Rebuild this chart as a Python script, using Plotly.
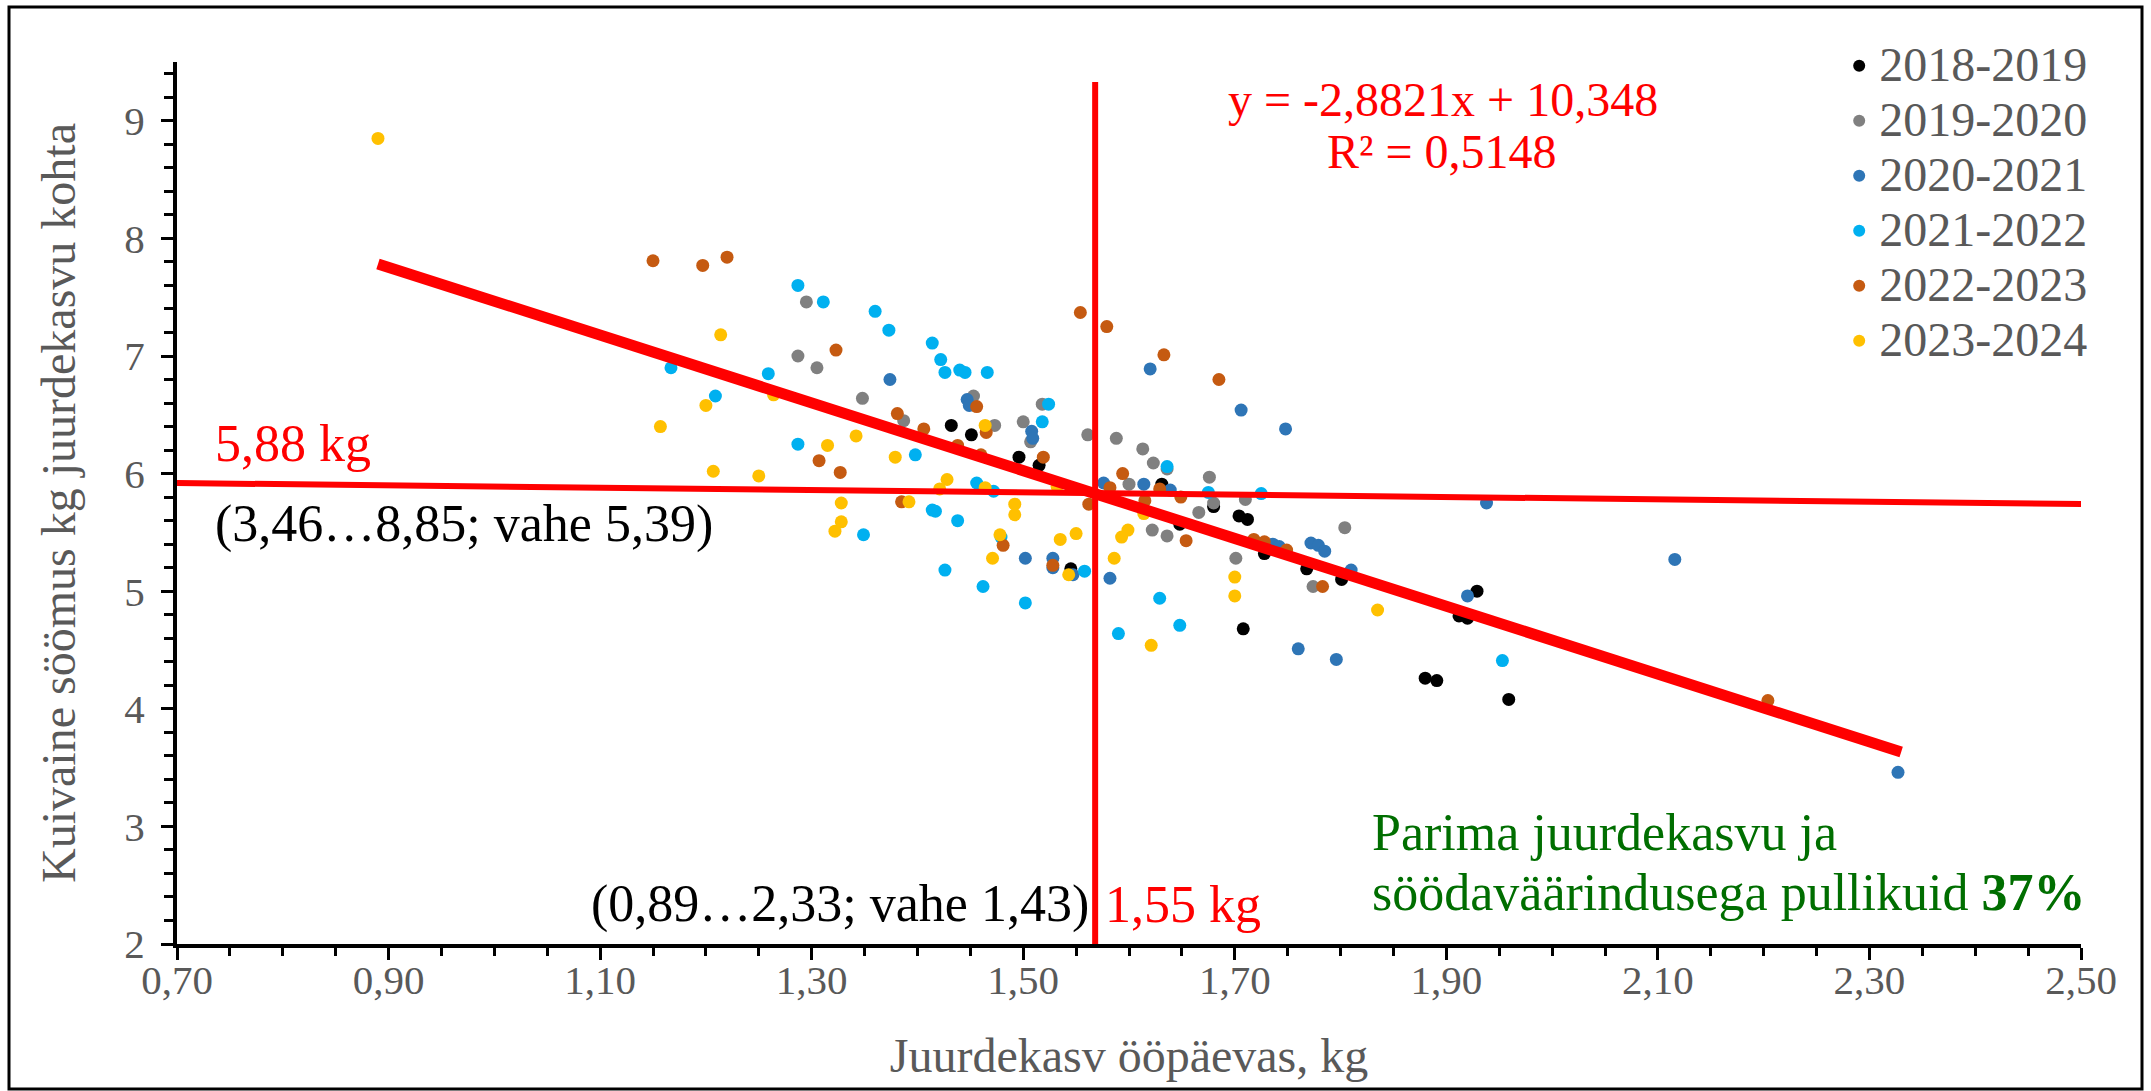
import plotly.graph_objects as go

# ---------------- data ----------------
series_names = ["2018-2019", "2019-2020", "2020-2021", "2021-2022", "2022-2023", "2023-2024"]
series_colors = ["#000000", "#808080", "#2E75B6", "#00B0F0", "#C55A11", "#FFC000"]

x_2018 = [1.432, 1.451, 1.496, 1.515, 1.631, 1.680, 1.704, 1.712, 1.648, 1.728, 1.768, 1.801,
          1.708, 1.929, 1.912, 1.920, 1.880, 1.891, 1.959, 1.545]
y_2018 = [6.41, 6.33, 6.14, 6.07, 5.91, 5.72, 5.64, 5.61, 5.57, 5.32, 5.19, 5.10,
          4.68, 5.00, 4.79, 4.77, 4.26, 4.24, 4.08, 5.19]

x_2019 = [1.295, 1.287, 1.305, 1.348, 1.387, 1.453, 1.518, 1.473, 1.500, 1.507, 1.561, 1.588,
          1.613, 1.623, 1.636, 1.676, 1.600, 1.710, 1.680, 1.666, 1.622, 1.636, 1.804, 1.701, 1.774]
y_2019 = [7.46, 7.00, 6.90, 6.64, 6.45, 6.66, 6.59, 6.41, 6.44, 6.27, 6.33, 6.30,
          6.21, 6.09, 6.04, 5.97, 5.91, 5.78, 5.75, 5.67, 5.52, 5.47, 5.54, 5.28, 5.04]

x_2020 = [1.374, 1.447, 1.449, 1.508, 1.509, 1.620, 1.706, 1.748, 1.576, 1.614, 1.639, 1.736,
          1.742, 1.772, 1.779, 1.785, 1.810, 1.502, 1.528, 1.528, 1.547, 1.582, 1.760, 1.796,
          1.920, 1.938, 2.116, 2.327]
y_2020 = [6.80, 6.63, 6.58, 6.36, 6.30, 6.89, 6.54, 6.38, 5.92, 5.91, 5.86, 5.40,
          5.38, 5.41, 5.39, 5.34, 5.18, 5.28, 5.28, 5.20, 5.14, 5.11, 4.51, 4.42,
          4.96, 5.75, 5.27, 3.46]

x_2021 = [1.287, 1.311, 1.360, 1.373, 1.414, 1.422, 1.426, 1.440, 1.445, 1.466, 1.524, 1.518,
          1.167, 1.259, 1.209, 1.287, 1.349, 1.398, 1.636, 1.675, 1.725, 1.456, 1.472, 1.414,
          1.417, 1.438, 1.558, 1.426, 1.462, 1.502, 1.590, 1.629, 1.648, 1.953, 1.479]
y_2021 = [7.60, 7.46, 7.38, 7.22, 7.11, 6.97, 6.86, 6.88, 6.86, 6.86, 6.59, 6.44,
          6.90, 6.85, 6.66, 6.25, 5.48, 6.16, 6.06, 5.84, 5.83, 5.92, 5.85, 5.69,
          5.68, 5.60, 5.17, 5.18, 5.04, 4.90, 4.64, 4.94, 4.71, 4.41, 5.46]

x_2022 = [1.150, 1.197, 1.220, 1.323, 1.307, 1.327, 1.381, 1.406, 1.456, 1.465, 1.438, 1.460,
          1.519, 1.554, 1.579, 1.633, 1.685, 1.594, 1.582, 1.629, 1.649, 1.615, 1.654, 1.718,
          1.728, 1.749, 1.783, 1.385, 1.562, 1.481, 1.528, 2.204]
y_2022 = [7.81, 7.77, 7.84, 7.05, 6.11, 6.01, 6.51, 6.38, 6.57, 6.35, 6.24, 6.16,
          6.14, 7.37, 7.25, 7.01, 6.80, 6.00, 5.88, 5.87, 5.80, 5.77, 5.43, 5.44,
          5.42, 5.35, 5.04, 5.76, 5.74, 5.39, 5.22, 4.07]

x_2023 = [0.890, 1.214, 1.264, 1.200, 1.157, 1.342, 1.315, 1.207, 1.250, 1.328, 1.328, 1.322,
          1.379, 1.464, 1.421, 1.428, 1.464, 1.532, 1.392, 1.492, 1.492, 1.478, 1.535, 1.550,
          1.471, 1.543, 1.614, 1.593, 1.599, 1.586, 1.700, 1.700, 1.621, 1.835]
y_2023 = [8.85, 7.18, 6.67, 6.58, 6.40, 6.32, 6.24, 6.02, 5.98, 5.75, 5.59, 5.51,
          6.14, 6.41, 5.87, 5.95, 5.88, 5.89, 5.76, 5.74, 5.65, 5.48, 5.44, 5.49,
          5.28, 5.14, 5.66, 5.46, 5.52, 5.28, 5.12, 4.96, 4.54, 4.84]

series_x = [x_2018, x_2019, x_2020, x_2021, x_2022, x_2023]
series_y = [y_2018, y_2019, y_2020, y_2021, y_2022, y_2023]

# trend line  y = -2.8821x + 10.348 over the observed x range
trend_slope = -2.8821
trend_intercept = 10.348
trend_x = [0.89, 2.33]

# mean markers (vertical and near-horizontal reference lines)
mean_x_line_x = [1.568, 1.568]
mean_x_line_y = [2.0, 9.33]
mean_y_line_x = [0.70, 2.515]
mean_y_line_y = [5.92, 5.74]

x_range = [0.70, 2.50]
y_range = [2.0, 9.5]

FONT = "Liberation Serif, Times New Roman, serif"
GRAY = "#595959"
RED = "#FF0000"
GREEN = "#006E00"

fig = go.Figure()

for name, col, xs, ys in zip(series_names, series_colors, series_x, series_y):
    fig.add_trace(go.Scatter(
        x=xs, y=ys, mode="markers",
        name='<span style="font-size:48px">' + name + '</span>',
        marker=dict(color=col, size=13, line=dict(width=0)),
    ))

fig.add_trace(go.Scatter(
    x=trend_x, y=[trend_slope * v + trend_intercept for v in trend_x],
    mode="lines", line=dict(color=RED, width=11), showlegend=False, hoverinfo="skip"))
fig.add_trace(go.Scatter(
    x=mean_x_line_x, y=mean_x_line_y, mode="lines",
    line=dict(color=RED, width=6), showlegend=False, hoverinfo="skip"))
fig.add_trace(go.Scatter(
    x=mean_y_line_x, y=mean_y_line_y, mode="lines",
    line=dict(color=RED, width=6), showlegend=False, hoverinfo="skip"))

annotations = [
    dict(x=1.897, y=9.181, text="y = -2,8821x + 10,348", font=dict(size=48, color=RED),
         xanchor="center", yanchor="middle"),
    dict(x=1.895, y=8.743, text="R² = 0,5148", font=dict(size=48, color=RED),
         xanchor="center", yanchor="middle"),
    dict(x=0.734, y=6.252, text="5,88 kg", font=dict(size=52, color=RED),
         xanchor="left", yanchor="middle"),
    dict(x=0.734, y=5.575, text="(3,46…8,85; vahe 5,39)", font=dict(size=52, color="#000000"),
         xanchor="left", yanchor="middle"),
    dict(x=1.564, y=2.34, text="(0,89…2,33; vahe 1,43)", font=dict(size=52, color="#000000"),
         xanchor="right", yanchor="middle"),
    dict(x=1.575, y=2.34, text="1,55 kg", font=dict(size=52, color=RED),
         xanchor="left", yanchor="middle"),
    dict(x=1.828, y=2.944, text="Parima juurdekasvu ja", font=dict(size=52, color=GREEN),
         xanchor="left", yanchor="middle"),
    dict(x=1.828, y=2.44, text="söödaväärindusega pullikuid <b>37%</b>",
         font=dict(size=52, color=GREEN), xanchor="left", yanchor="middle"),
]
for a in annotations:
    a.update(xref="x", yref="y", showarrow=False)
    a["font"]["family"] = FONT

fig.update_layout(
    width=2151, height=1091,
    margin=dict(l=177, r=70, t=62, b=147, autoexpand=False),
    paper_bgcolor="white", plot_bgcolor="white",
    separators=", ",
    font=dict(family=FONT, color=GRAY),
    showlegend=True,
    legend=dict(x=0.873, y=1.0325, xanchor="left", yanchor="top",
                font=dict(family=FONT, size=40, color=GRAY),
                bgcolor="rgba(0,0,0,0)", itemsizing="constant"),
    annotations=annotations,
    xaxis=dict(range=x_range, tick0=0.70, dtick=0.2, tickformat=".2f",
               showgrid=False, zeroline=False,
               showline=True, linecolor="black", linewidth=4,
               ticks="outside", ticklen=12, tickwidth=3, tickcolor="black",
               minor=dict(dtick=0.05, tick0=0.70, ticks="outside", ticklen=8,
                          tickwidth=2.5, tickcolor="black", showgrid=False),
               tickfont=dict(family=FONT, size=41, color=GRAY),
               ticklabelstandoff=-15,
               title=dict(text="Juurdekasv ööpäevas, kg",
                          font=dict(family=FONT, size=48, color=GRAY), standoff=37),
               automargin=False),
    yaxis=dict(range=y_range, tick0=2, dtick=1, tickformat="d",
               showgrid=False, zeroline=False,
               showline=True, linecolor="black", linewidth=4,
               ticks="outside", ticklen=12, tickwidth=3, tickcolor="black",
               minor=dict(dtick=0.2, tick0=2, ticks="outside", ticklen=9,
                          tickwidth=2.5, tickcolor="black", showgrid=False),
               tickfont=dict(family=FONT, size=41, color=GRAY),
               ticklabelstandoff=8,
               title=dict(text="Kuivaine söömus kg juurdekasvu kohta",
                          font=dict(family=FONT, size=48, color=GRAY), standoff=34),
               automargin=False),
    xaxis2=dict(range=x_range, overlaying="x", anchor="y", tick0=0.70, dtick=0.2,
                ticks="inside", ticklen=10, tickwidth=3, tickcolor="black",
                showticklabels=False, showline=False, showgrid=False, zeroline=False),
    yaxis2=dict(range=y_range, overlaying="y", anchor="x", tick0=2, dtick=1,
                ticks="inside", ticklen=12, tickwidth=3, tickcolor="black",
                showticklabels=False, showline=False, showgrid=False, zeroline=False),
    shapes=[dict(type="rect", xref="paper", yref="paper",
                 x0=(9 - 177) / 1904, x1=(2142 - 177) / 1904,
                 y0=(944 - 1089) / 882, y1=(944 - 7) / 882,
                 line=dict(color="black", width=3), fillcolor="rgba(0,0,0,0)", layer="above")],
)

fig.write_html("out.html", config={"displayModeBar": False},
               post_script="document.body.style.margin='0';document.body.style.overflow='hidden';")
